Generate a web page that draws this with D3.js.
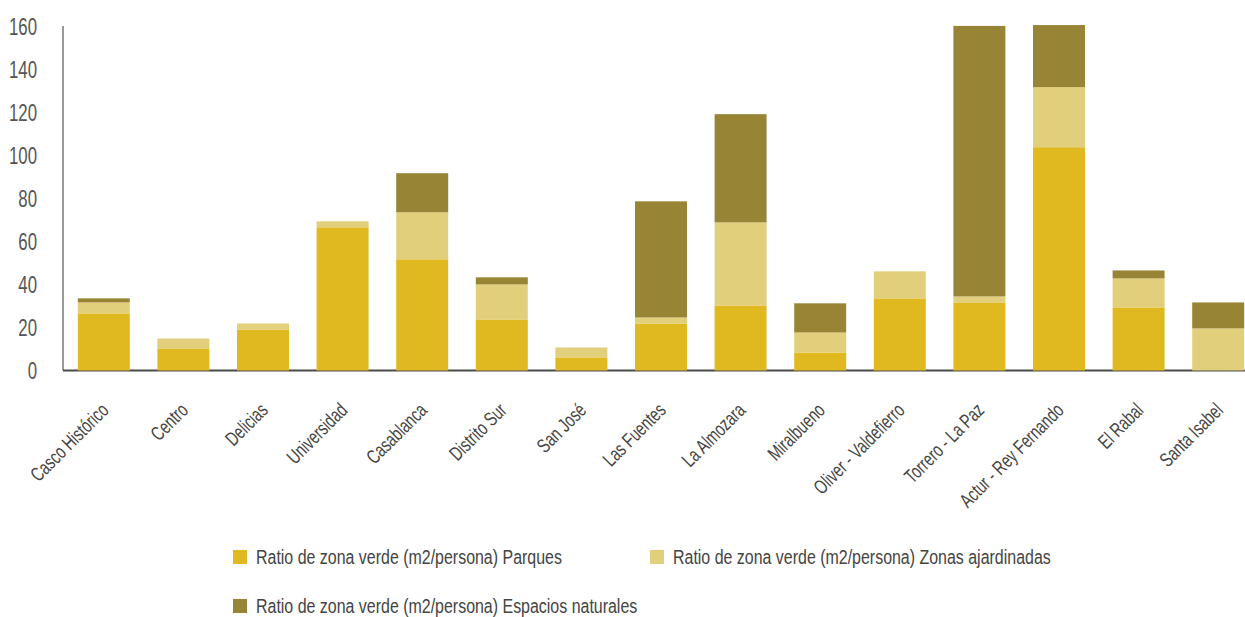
<!DOCTYPE html>
<html><head><meta charset="utf-8">
<script src="https://cdn.jsdelivr.net/npm/d3@7"></script>
<style>
body{margin:0;background:#fff;}
svg{display:block;font-family:"Liberation Sans",Arial,sans-serif;}
</style></head>
<body><svg id="c" width="1245" height="617"></svg>
<script>
const categories = ["Casco Histórico","Centro","Delicias","Universidad","Casablanca","Distrito Sur","San José","Las Fuentes","La Almozara","Miralbueno","Oliver - Valdefierro","Torrero - La Paz","Actur - Rey Fernando","El Rabal","Santa Isabel"];
const parques     = [26.6, 10.3, 19.1, 66.7, 51.8, 23.8, 6.1, 21.9, 30.3, 8.4, 33.6, 31.7, 104.0, 29.4, 0];
const ajardinadas = [5.1, 4.6, 2.8, 2.8, 21.9, 16.3, 4.6, 2.8, 38.7, 9.3, 12.6, 2.8, 28.0, 13.5, 19.6];
const naturales   = [1.9, 0, 0, 0, 18.2, 3.3, 0, 54.1, 50.4, 13.6, 0, 126.0, 28.9, 3.7, 12.1];
const seriesNames = ["Ratio de zona verde (m2/persona) Parques","Ratio de zona verde (m2/persona) Zonas ajardinadas","Ratio de zona verde (m2/persona) Espacios naturales"];
const seriesColors = ["#E0B920","#E2CF7C","#978434"];
const yTicks = [0,20,40,60,80,100,120,140,160];

const rows = categories.map((c,i)=>({cat:c, s0:parques[i], s1:ajardinadas[i], s2:naturales[i]}));
const stack = d3.stack().keys(["s0","s1","s2"])(rows);

const svg = d3.select("#c");
const x = d3.scaleBand().domain(categories).range([64,1258]).paddingInner(0.347).paddingOuter(0.1735);
const y = d3.scaleLinear().domain([0,160]).range([370.5,27]);

// y axis
const sqY = 0.7;
const ya = svg.append("g").attr("transform","translate(63,0)")
  .call(d3.axisLeft(y).tickValues(yTicks).tickSize(0).tickPadding(26).tickFormat(d3.format("d")));
ya.select(".domain").attr("stroke","#777").attr("stroke-width",1.5).attr("d","M0,26V370.5");
ya.selectAll("text").attr("font-size",24).attr("fill","#555").attr("font-family","inherit")
  .attr("x",-26/sqY).attr("transform",`scale(${sqY},1)`);

// x axis
const sqX = 0.72;
const xa = svg.append("g").attr("transform","translate(0,370.5)")
  .call(d3.axisBottom(x).tickSize(0));
xa.select(".domain").attr("stroke","#4a4a4a").attr("stroke-width",2).attr("d","M63,0H1245");
xa.selectAll("text")
  .attr("font-size",20).attr("fill","#444").attr("font-family","inherit")
  .attr("text-anchor","end").attr("y",0).attr("dy",0)
  .attr("transform",`translate(6,41) rotate(-45) scale(${sqX},1)`);

// bars
svg.append("g").selectAll("g").data(stack).join("g")
  .attr("fill",(d,i)=>seriesColors[i])
  .selectAll("rect").data(d=>d).join("rect")
  .attr("x",d=>x(d.data.cat))
  .attr("width",x.bandwidth())
  .attr("y",d=>y(d[1]))
  .attr("height",d=>Math.max(0,y(d[0])-y(d[1])));

// legend
const sqL = 0.76;
const legPos = [[233,557],[650,557],[233,606]];
const leg = svg.append("g").selectAll("g").data(seriesNames).join("g")
  .attr("transform",(d,i)=>`translate(${legPos[i][0]},${legPos[i][1]})`);
leg.append("rect").attr("x",0).attr("y",-7).attr("width",14).attr("height",14).attr("fill",(d,i)=>seriesColors[i]);
leg.append("text").attr("transform",`translate(23,0) scale(${sqL},1)`).attr("dy","0.35em")
  .attr("font-size",21).attr("fill","#444").text(d=>d);
</script></body></html>
